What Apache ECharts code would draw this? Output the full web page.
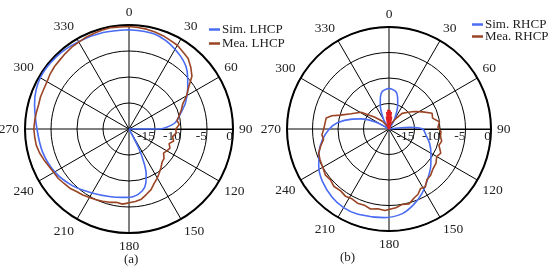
<!DOCTYPE html>
<html>
<head>
<meta charset="utf-8">
<script src="https://cdn.jsdelivr.net/npm/echarts@6/dist/echarts.min.js"></script>
<style>
  html, body { margin: 0; padding: 0; background: #fff; }
  #chart { width: 550px; height: 270px; }
</style>
</head>
<body>
<div id="chart"></div>
<script>
// radial scale (dB) and angle ticks
let dbTicks = [-20, -15, -10, -5, 0]
let angleTicks = [0, 30, 60, 90, 120, 150, 180, 210, 240, 270, 300, 330]

// (a) Sim. LHCP
let simL_ang = [0, 15, 30, 45, 55, 65, 73, 82, 88, 90, 92, 148, 153, 156, 159, 163, 168, 176, 185, 195, 210, 225, 240, 255, 270, 285, 300, 315, 330, 345, 360]
let simL_db  = [-0.9, -1.1, -2.3, -4.2, -6.2, -8.0, -9.6, -11.0, -13.0, -14.5, -20, -20, -16, -13, -10.8, -9.0, -7.8, -7.0, -6.8, -6.5, -5.8, -4.6, -3.5, -2.8, -2.3, -1.2, -0.3, -0.3, -0.6, -0.8, -0.9]

// (a) Mea. LHCP
let meaL_ang = [0, 5, 10, 15, 20, 25, 30, 35, 40, 45, 50, 55, 60, 65, 70, 75, 80, 85, 90, 95, 100, 105, 110, 115, 120, 125, 130, 135, 140, 145, 150, 155, 160, 165, 170, 175, 180, 185, 190, 195, 200, 205, 210, 215, 220, 225, 230, 235, 240, 245, 250, 255, 260, 265, 270, 275, 280, 285, 290, 295, 300, 305, 310, 315, 320, 325, 330, 335, 340, 345, 350, 355, 360]
let meaL_db  = [-0.3, -0.4, -0.5, -0.7, -0.9, -1.2, -1.4, -1.9, -2.3, -3.2, -4.2, -6.0, -7.2, -8.6, -9.3, -10.0, -10.6, -10.3, -11.0, -10.9, -11.5, -11.1, -11.8, -11.3, -11.6, -11.9, -11.2, -11.0, -10.4, -9.8, -9.1, -8.5, -7.6, -7.0, -6.3, -6.0, -5.8, -5.5, -5.7, -5.4, -5.2, -5.0, -4.8, -4.5, -4.3, -3.9, -3.7, -3.4, -3.3, -3.0, -2.6, -2.2, -1.9, -1.8, -1.7, -1.8, -1.9, -2.0, -1.9, -1.9, -1.8, -1.5, -1.3, -1.2, -1.0, -0.8, -0.7, -0.5, -0.4, -0.3, -0.2, -0.3, -0.3]

// (b) Sim. RHCP
let simR_ang = [0, 10, 15, 20, 30, 35, 80, 85, 90, 100, 109, 120, 132, 143, 153, 162, 171, 183, 200, 210, 220, 232, 242, 252, 261, 270, 277, 285, 290, 297, 305, 325, 330, 340, 345, 350, 360]
let simR_db  = [-12, -12.5, -13.5, -15, -18, -20, -20, -16, -13.4, -12.6, -11.6, -10.5, -9.0, -7.5, -5.8, -4.4, -3.2, -2.6, -2.2, -2.2, -2.6, -3.4, -4.4, -5.6, -6.8, -8.3, -9.8, -12.5, -14.2, -17, -20, -20, -18, -15, -13.5, -12.5, -12]

// (b) Mea. RHCP
let meaR_ang = [0, 20, 30, 40, 49, 55, 63, 70, 76, 82, 88, 93, 98, 103, 108, 115, 120, 126, 133, 138, 143, 148, 152, 156, 160, 165, 170, 175, 183, 188, 193, 198, 203, 208, 213, 218, 224, 229, 234, 240, 246, 251, 256, 261, 265, 270, 275, 280, 283, 286, 292, 301, 310, 320, 330, 340, 360]
let meaR_db  = [-20, -19, -18, -16, -15, -14, -12.6, -11, -11.2, -10, -10.4, -9.8, -9.8, -9.4, -9.7, -8.8, -9.2, -8.6, -8.3, -7.8, -7.6, -6.6, -6.8, -6.0, -5.6, -4.8, -5.0, -4.5, -4.0, -4.2, -3.9, -4.3, -4.2, -4.5, -4.3, -4.6, -4.4, -4.8, -4.6, -5.0, -5.2, -5.4, -6.2, -7.0, -6.8, -7.2, -7.4, -7.5, -8.5, -10.1, -12, -13.6, -16.4, -18, -19.5, -20, -20]

// (b) noisy measured bit near the centre
let meaR_core_ang = [348, 350, 352, 354, 356, 358, 0, 2, 4, 6, 8, 10, 12]
let meaR_core_db  = [-20, -17.5, -19.5, -16.6, -19, -16.2, -18.5, -16.3, -19, -16.6, -19.5, -17.5, -20]

let pairs = function(ang, db){
  return ang.map((a, i) => [db[i], a])
}

let serif = '"Liberation Serif", "DejaVu Serif", serif'
let blue = '#4a6cf2'
let brown = '#9a4424'

let makeAngleAxis = function(idx){
  return {
    polarIndex: idx,
    type: 'value',
    startAngle: 0,
    clockwise: true,
    min: 90,
    max: 450,
    interval: 30,
    axisLine: { lineStyle: { color: '#000', width: 2 } },
    axisTick: { show: false },
    splitLine: { lineStyle: { color: '#000', width: 1 } },
    axisLabel: {
      margin: 6,
      color: '#222',
      fontFamily: serif,
      fontSize: 13.5,
      formatter: v => String(v % 360)
    }
  }
}

let makeRadiusAxis = function(idx){
  return {
    polarIndex: idx,
    type: 'value',
    min: dbTicks[0],
    max: dbTicks[dbTicks.length - 1],
    interval: 5,
    axisLine: { lineStyle: { color: '#000', width: 1 } },
    axisTick: { show: false },
    splitLine: { lineStyle: { color: '#000', width: 1 } },
    axisLabel: {
      showMinLabel: false,
      align: 'right',
      verticalAlign: 'top',
      margin: 0,
      color: '#222',
      fontFamily: serif,
      fontSize: 13.5
    }
  }
}

let legendBase = {
  orient: 'vertical',
  icon: 'rect',
  itemWidth: 11,
  itemHeight: 2.5,
  textStyle: { fontFamily: serif, fontSize: 13, color: '#222', padding: [0, 0, 0, -3] }
}

let myChart = echarts.init(document.getElementById('chart'))

let option = {
  animation: false,
  title: [
    { text: '(a)', left: 119, top: 248, textStyle: { fontFamily: serif, fontSize: 13, fontWeight: 'normal', color: '#222' } },
    { text: '(b)', left: 335, top: 246, textStyle: { fontFamily: serif, fontSize: 13, fontWeight: 'normal', color: '#222' } }
  ],
  legend: [
    Object.assign({ left: 204, top: 18, itemGap: 1, data: ['Sim. LHCP', 'Mea. LHCP'] }, legendBase),
    Object.assign({ left: 467, top: 13, itemGap: -1, data: ['Sim. RHCP', 'Mea. RHCP'] }, legendBase)
  ],
  polar: [
    { center: [129, 129], radius: 104 },
    { center: [389, 129], radius: 102 }
  ],
  angleAxis: [makeAngleAxis(0), makeAngleAxis(1)],
  radiusAxis: [makeRadiusAxis(0), makeRadiusAxis(1)],
  series: [
    {
      name: 'Sim. LHCP', type: 'line', coordinateSystem: 'polar', polarIndex: 0,
      data: pairs(simL_ang, simL_db), smooth: 0.3, showSymbol: false,
      lineStyle: { color: blue, width: 1.6 }, itemStyle: { color: blue }
    },
    {
      name: 'Mea. LHCP', type: 'line', coordinateSystem: 'polar', polarIndex: 0,
      data: pairs(meaL_ang, meaL_db), showSymbol: false,
      lineStyle: { color: brown, width: 1.6 }, itemStyle: { color: brown }
    },
    {
      name: 'Sim. RHCP', type: 'line', coordinateSystem: 'polar', polarIndex: 1,
      data: pairs(simR_ang, simR_db), smooth: 0.3, showSymbol: false,
      lineStyle: { color: blue, width: 1.6 }, itemStyle: { color: blue }
    },
    {
      name: 'Mea. RHCP', type: 'line', coordinateSystem: 'polar', polarIndex: 1,
      data: pairs(meaR_ang, meaR_db), showSymbol: false,
      lineStyle: { color: brown, width: 1.6 }, itemStyle: { color: brown }
    },
    {
      name: 'Mea. RHCP core', type: 'line', coordinateSystem: 'polar', polarIndex: 1,
      data: pairs(meaR_core_ang, meaR_core_db), showSymbol: false,
      lineStyle: { color: '#e02020', width: 2.5 }, itemStyle: { color: '#e02020' }
    }
  ]
}

myChart.setOption(option, true)

window.addEventListener('resize', function(){
  myChart.resize()
})
</script>
</body>
</html>
